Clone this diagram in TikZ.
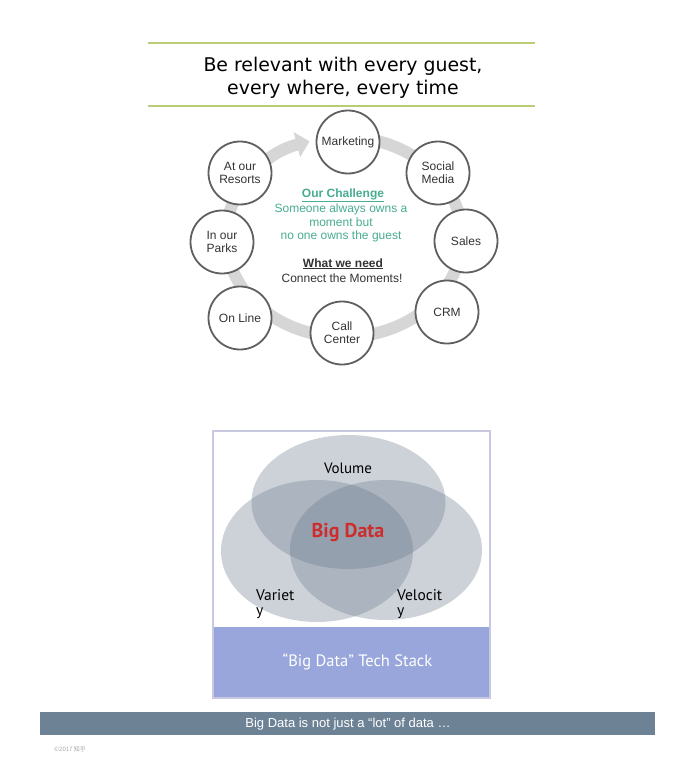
\documentclass[tikz,border=0pt]{standalone}
\usepackage{fontspec}
\setmainfont{Liberation Sans}
\newfontfamily\titlefont{DejaVu Sans}
\newfontfamily\vennfont{PT Sans}
\newfontfamily\cjk{Noto Sans CJK SC}
\usetikzlibrary{arrows.meta,calc}
\definecolor{rulegreen}{RGB}{185,205,120}
\definecolor{ringgray}{RGB}{214,214,214}
\definecolor{circedge}{RGB}{95,95,95}
\definecolor{teal2}{RGB}{72,172,145}
\definecolor{venngray}{RGB}{105,120,140}
\definecolor{stackblue}{RGB}{152,166,219}
\definecolor{boxedge}{RGB}{200,200,225}
\definecolor{bigred}{RGB}{205,45,45}
\definecolor{barslate}{RGB}{110,130,150}
\tikzset{
  moment/.style={circle, draw=circedge, line width=1.8pt, fill=white, minimum size=63pt, inner sep=0pt, align=center, font=\fontsize{12}{13}\selectfont, text=black!80},
  ringstyle/.style={draw=ringgray, line width=12pt, -{Triangle[width=25pt,length=13pt]}},
  midtext/.style={anchor=base, inner sep=0pt, font=\fontsize{12}{13}\selectfont},
  vennset/.style={fill=venngray, fill opacity=0.33},
  vennlabel/.style={anchor=base west, inner sep=0pt, align=left, font=\vennfont\fontsize{15.5}{15}\selectfont}
}
\begin{document}
\begin{tikzpicture}[x=1pt,y=-1pt]
\useasboundingbox (0,0) rectangle (700,760);
\fill[white] (0,0) rectangle (700,760);

% title
\draw[rulegreen, line width=1.8pt] (148,43) coordinate (r1a) -- (535,43) coordinate (r1b);
\draw[rulegreen, line width=1.8pt] (148,106) coordinate (r2a) -- (535,106) coordinate (r2b);
\node[anchor=base, inner sep=0pt, font=\titlefont\fontsize{18.9}{23}\selectfont] (t1) at (343,71) {Be relevant with every guest,};
\node[anchor=base, inner sep=0pt, font=\titlefont\fontsize{18.9}{23}\selectfont] (t2) at (343,94) {every where, every time};

% ring
\coordinate (rc) at (344,237);
\draw[ringstyle] ($(rc)+(85:118pt and 100pt)$) arc[start angle=85, end angle=-253, x radius=118pt, y radius=100pt];

% moments
\node[moment] (mkt) at (348,142) {Marketing};
\node[moment] (soc) at (438,173) {Social\\Media};
\node[moment] (sal) at (466,241) {Sales};
\node[moment] (crm) at (447,312) {CRM};
\node[moment] (cal) at (342,333) {Call\\Center};
\node[moment] (onl) at (240,318) {On Line};
\node[moment] (par) at (222,242) {In our\\Parks};
\node[moment] (res) at (240,173) {At our\\Resorts};

% center text
\node[midtext, text=teal2, font=\bfseries\fontsize{12}{13}\selectfont] (ch1) at (343,197) {\underline{Our Challenge}};
\node[midtext, text=teal2] (ch2) at (341,212) {Someone always owns a};
\node[midtext, text=teal2] (ch3) at (341,226) {moment but};
\node[midtext, text=teal2] (ch4) at (341,239) {no one owns the guest};
\node[midtext, text=black!80, font=\bfseries\fontsize{12}{13}\selectfont] (wn1) at (343,267) {\underline{What we need}};
\node[midtext, text=black!80] (wn2) at (342,282) {Connect the Moments!};

% venn box
\draw[boxedge, line width=1.5pt] (213,431) rectangle (490,698);
\fill[vennset] (348.5,502) ellipse [x radius=97pt, y radius=67pt];
\fill[vennset] (317,551) ellipse [x radius=96pt, y radius=71pt];
\fill[vennset] (386,550) ellipse [x radius=96pt, y radius=70pt];
\fill[stackblue] (213.75,627) rectangle (489.25,697.25);
\node[anchor=base, inner sep=0pt, font=\vennfont\fontsize{15}{16}\selectfont] (vol) at (348,473) {Volume};
\node[anchor=base, inner sep=0pt, text=bigred, font=\vennfont\bfseries\fontsize{20}{22}\selectfont] (bd) at (348,537) {Big Data};
\node[vennlabel] (var) at (256,615) {Variet\\y};
\node[vennlabel] (vel) at (397,615) {Velocit\\y};
\node[anchor=base, inner sep=0pt, text=white, font=\vennfont\fontsize{16.5}{18}\selectfont] (ts) at (357.5,666) {“Big Data” Tech Stack};

% footer
\fill[barslate] (40,712) rectangle (655,735);
\node[anchor=base, inner sep=0pt, text=white, font=\fontsize{13}{15}\selectfont] (ft) at (348,727.5) {Big Data is not just a “lot” of data …};
\node[anchor=base west, inner sep=0pt, text=black!35, font=\cjk\fontsize{6}{7}\selectfont] (cp) at (54,751) {©2017 知乎};
\end{tikzpicture}
\end{document}
